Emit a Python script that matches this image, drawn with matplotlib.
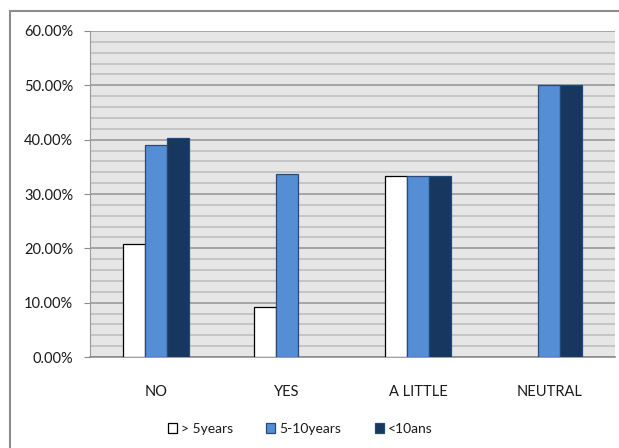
import matplotlib
matplotlib.use("Agg")
import matplotlib.pyplot as plt
import numpy as np
from matplotlib.patches import Rectangle
from matplotlib.ticker import FuncFormatter, MultipleLocator

categories = ["NO", "YES", "A LITTLE", "NEUTRAL"]
series_names = ["> 5years", "5-10years", "<10ans"]
over_5_years = [20.75, 9.15, 33.33, 0.0]
five_to_10_years = [39.0, 33.7, 33.33, 50.0]
under_10_ans = [40.3, 0.0, 33.33, 50.0]
y_ticks = [0, 10, 20, 30, 40, 50, 60]

plt.rcParams["font.family"] = ["Lato", "DejaVu Sans"]

W, H = 619, 448
fig = plt.figure(figsize=(W / 100, H / 100), dpi=100)

# outer chart frame
fig.patches.append(Rectangle((10 / W, -0.1), 1.2, 1 - 11 / H + 0.1,
                             transform=fig.transFigure, fill=False,
                             edgecolor="#8c8c8c", linewidth=1.5))

ax = fig.add_axes([90 / W, 1 - 357 / H, 525 / W, 326 / H])
ax.set_facecolor("#e6e6e6")

x = np.arange(len(categories))
w = 0.168
series = [over_5_years, five_to_10_years, under_10_ans]
faces = ["#ffffff", "#558ed5", "#17375e"]
edges = ["#000000", "#2b4a75", "#1f4a7a"]
for i, (vals, fc, ec, name) in enumerate(zip(series, faces, edges, series_names)):
    vals = np.asarray(vals, dtype=float)
    shown = vals > 0  # empty categories get no bar at all
    ax.bar(x[shown] + (i - 1) * w, vals[shown], width=w, color=fc, edgecolor=ec,
           linewidth=0.9, label=name, zorder=3)

ax.set_xlim(-0.5, len(categories) - 0.5)
ax.set_ylim(0, 60)
ax.set_yticks(y_ticks)
ax.yaxis.set_minor_locator(MultipleLocator(2))
ax.yaxis.set_major_formatter(FuncFormatter(lambda v, p: f"{v:.2f}%"))
ax.grid(axis="y", which="minor", color="#bfbfbf", linewidth=1.2, zorder=1)
ax.grid(axis="y", which="major", color="#9a9a9a", linewidth=1.2, zorder=1)
ax.tick_params(axis="y", which="major", length=4, color="#8c8c8c",
               labelsize=10.5, labelcolor="#1a1a1a", pad=8)
ax.tick_params(axis="y", which="minor", length=0)
ax.set_xticks(x)
ax.set_xticklabels(categories)
ax.tick_params(axis="x", length=0, labelsize=10.5, labelcolor="#1a1a1a", pad=20)

for s in ["top", "right"]:
    ax.spines[s].set_visible(False)
ax.spines["left"].set_color("#9a9a9a")
ax.spines["bottom"].set_color("#8c8c8c")
ax.spines["bottom"].set_linewidth(1.2)

leg = fig.legend(loc="center", bbox_to_anchor=(300 / W, 1 - 429 / H), ncol=3,
                 frameon=False, fontsize=10, handlelength=0.65, handleheight=0.65,
                 handletextpad=0.3, columnspacing=2.4)
for t in leg.get_texts():
    t.set_color("#1a1a1a")

fig.savefig("out.png", dpi=100)
